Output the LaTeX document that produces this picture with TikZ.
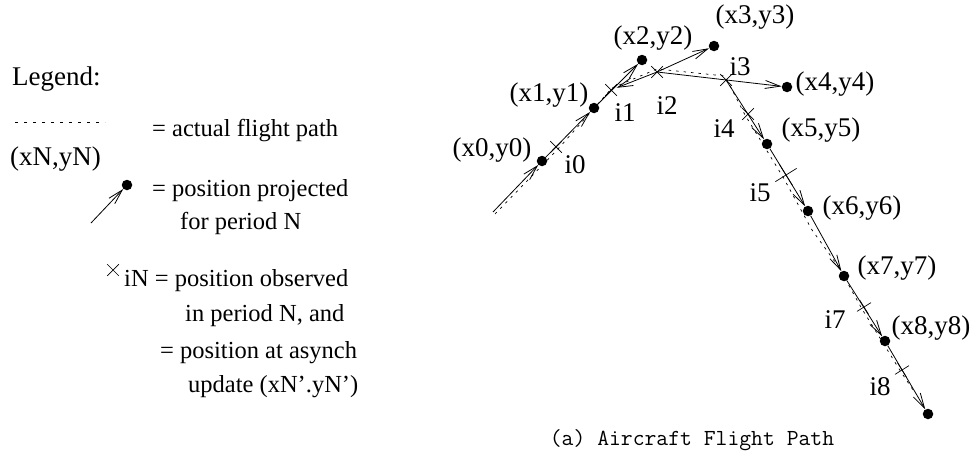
\documentclass[tikz,border=0pt]{standalone}
\usepackage{fontspec}
\setmainfont{Liberation Serif}
\usetikzlibrary{arrows.meta,shapes.misc}
\begin{document}
\begin{tikzpicture}[x=1pt,y=-1pt,
  dot/.style={circle,fill=black,inner sep=0pt,minimum size=10.5pt},
  obs/.style={cross out,draw=black,line width=0.7pt,inner sep=0pt,minimum size=11pt},
  proj/.style={line width=0.8pt,-{Straight Barb[length=15pt,width=8pt]}},
  actual/.style={line width=0.7pt,dash pattern=on 2.5pt off 5pt},
  lbl/.style={font=\fontsize{27}{30}\selectfont,inner sep=0pt},
  leg/.style={font=\fontsize{24.5}{28}\selectfont,inner sep=0pt,anchor=west},
]
\useasboundingbox (0,0) rectangle (973,466);

% ---------- legend ----------
\node[lbl,anchor=west] (legt) at (12,79) {Legend:};
\coordinate (da) at (15,122);
\coordinate (db) at (105,122);
\draw[line width=0.6pt,dash pattern=on 2.5pt off 6.5pt] (da) -- (db);
\node[leg] (leg1) at (152,131) {= actual flight path};
\node[lbl,anchor=west] (legxy) at (10,159) {(xN,yN)};
\node[dot] (ld) at (127,185) {};
\coordinate (la) at (91,223);
\draw[proj] (la) -- (ld);
\node[leg] (leg2) at (152,191) {= position projected};
\node[leg] (leg3) at (180,223) {for period N};
\node[obs] (lx) at (113,270) {};
\node[leg] (leg4) at (124,281) {iN = position observed};
\node[leg] (leg5) at (185,316) {in period N, and};
\node[leg] (leg6) at (160,353) {= position at asynch};
\node[leg] (leg7) at (188,387) {update (xN’.yN’)};

% ---------- actual flight path ----------
\draw[actual] (495,214) -- (558,149) -- (612,88) -- (657,69) -- (725,76)
  -- (745,115) -- (783,177) -- (812,230) -- (838,266) -- (862,309) -- (901,372) -- (915,393);

% ---------- projected positions ----------
\coordinate (S) at (493,212);
\node[dot] (p0) at (542,161) {};
\node[dot] (p1) at (594,108) {};
\node[dot] (p2) at (642,60) {};
\node[dot] (p3) at (714,46) {};
\node[dot] (p4) at (787,87) {};
\node[dot] (p5) at (767,144) {};
\node[dot] (p6) at (808,211) {};
\node[dot] (p7) at (844,276) {};
\node[dot] (p8) at (885,341) {};
\node[dot] (p9) at (928,414) {};

% ---------- observed positions ----------
\node[obs] (c0) at (556,147) {};
\node[obs] (c1) at (611,90) {};
\node[obs] (c2) at (657,72) {};
\node[obs] (c3) at (726,80) {};
\node[obs] (c4) at (748,114) {};
\node[obs,minimum size=17pt,rotate=-13] (c5) at (786,175) {};
\node[obs,rotate=-13] (c7) at (864,307) {};
\node[obs,rotate=-13] (c8) at (902,370) {};

% ---------- projections ----------
\draw[proj] (S) -- (p0);
\draw[proj] (p0) -- (p1);
\draw[proj] (p1) -- (p2);
\draw[proj,shorten >=6pt] (c2.center) -- (c1.center);
\draw[proj] (c2.center) -- (p3);
\draw[proj] (c2.center) -- (p4);
\draw[proj] (c3.center) -- (p5);
\draw[proj] (p5) -- (p6);
\draw[proj] (p6) -- (p7);
\draw[proj] (p7) -- (p8);
\draw[proj] (p8) -- (p9);

% ---------- labels ----------
\node[lbl] (t0) at (492,150) {(x0,y0)};
\node[lbl] (t1) at (549,95) {(x1,y1)};
\node[lbl] (t2) at (653,38) {(x2,y2)};
\node[lbl] (t3) at (755,17) {(x3,y3)};
\node[lbl] (t4) at (835,84) {(x4,y4)};
\node[lbl] (t5) at (821,130) {(x5,y5)};
\node[lbl] (t6) at (862,208) {(x6,y6)};
\node[lbl] (t7) at (897,268) {(x7,y7)};
\node[lbl] (t8) at (931,328) {(x8,y8)};
\node[lbl] (i0) at (575,165) {i0};
\node[lbl] (i1) at (625,113) {i1};
\node[lbl] (i2) at (667,106) {i2};
\node[lbl] (i3) at (740,67) {i3};
\node[lbl] (i4) at (724,129) {i4};
\node[lbl] (i5) at (760,193) {i5};
\node[lbl] (i7) at (835,320) {i7};
\node[lbl] (i8) at (880,387) {i8};

% ---------- caption ----------
\node[inner sep=0pt,font=\ttfamily\fontsize{23}{26}\selectfont] (cap) at (692,440) {(a) Aircraft Flight Path};
\end{tikzpicture}
\end{document}
